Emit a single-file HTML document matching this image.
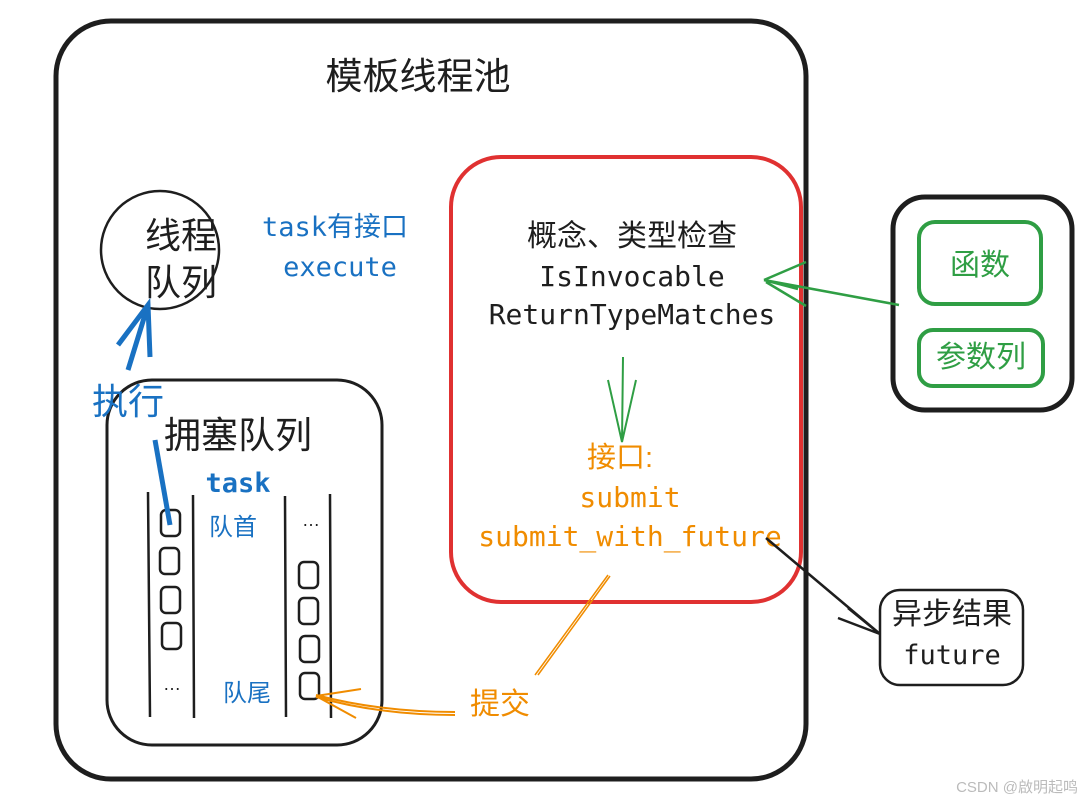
<!DOCTYPE html>
<html><head><meta charset="utf-8"><style>
html,body{margin:0;padding:0;background:#fff;}
svg{display:block;}
.cj{font-family:"Liberation Sans","Noto Sans CJK SC",sans-serif;}
.mo{font-family:"DejaVu Sans Mono","Liberation Mono","Noto Sans CJK SC",monospace;}
</style></head><body>
<svg width="1083" height="803" viewBox="0 0 1083 803" xmlns="http://www.w3.org/2000/svg">
<rect width="1083" height="803" fill="#fff"/>
<rect x="56" y="21" width="750" height="758" rx="55" fill="none" stroke="#1e1e1e" stroke-width="5"/>
<text x="418" y="89" class="cj" font-size="37" text-anchor="middle" fill="#1e1e1e">模板线程池</text>
<circle cx="160" cy="250" r="59" fill="none" stroke="#1e1e1e" stroke-width="2.5"/>
<text x="181" y="248" class="cj" font-size="36" text-anchor="middle" fill="#1e1e1e">线程</text>
<text x="181" y="295" class="cj" font-size="36" text-anchor="middle" fill="#1e1e1e">队列</text>
<text x="262" y="236" class="mo" font-size="27" fill="#1971c2">task有接口</text>
<text x="340" y="276" class="mo" font-size="27" text-anchor="middle" fill="#1971c2">execute</text>
<rect x="451" y="157" width="350" height="445" rx="50" fill="none" stroke="#e03131" stroke-width="4"/>
<text x="632" y="246" class="cj" font-size="30" text-anchor="middle" fill="#1e1e1e">概念、类型检查</text>
<text x="632" y="286" class="mo" font-size="28" text-anchor="middle" fill="#1e1e1e">IsInvocable</text>
<text x="632" y="324" class="mo" font-size="28" text-anchor="middle" fill="#1e1e1e">ReturnTypeMatches</text>
<path d="M623 357 L622 442 M608 380 L622 442 L636 380" fill="none" stroke="#2f9e44" stroke-width="2"/>
<text x="620" y="467" class="cj" font-size="29" text-anchor="middle" fill="#f08c00">接口:</text>
<text x="630" y="507" class="mo" font-size="28" text-anchor="middle" fill="#f08c00">submit</text>
<text x="630" y="546" class="mo" font-size="28" text-anchor="middle" fill="#f08c00">submit_with_future</text>
<rect x="893" y="197" width="179" height="213" rx="32" fill="none" stroke="#1e1e1e" stroke-width="5"/>
<rect x="919" y="222" width="122" height="82" rx="16" fill="none" stroke="#2f9e44" stroke-width="4"/>
<text x="980" y="275" class="cj" font-size="30" text-anchor="middle" fill="#2f9e44">函数</text>
<rect x="919" y="330" width="124" height="56" rx="14" fill="none" stroke="#2f9e44" stroke-width="4"/>
<text x="981" y="367" class="cj" font-size="30" text-anchor="middle" fill="#2f9e44">参数列</text>
<path d="M899 305 L764 280 M764 280 L806 262 M764 280 L798 289 M766 282 L806 306" fill="none" stroke="#2f9e44" stroke-width="2.5"/>
<path d="M766 538 L880 634 M880 634 L848 608 M880 634 L838 618" fill="none" stroke="#1e1e1e" stroke-width="2.5"/>
<rect x="880" y="590" width="143" height="95" rx="20" fill="none" stroke="#1e1e1e" stroke-width="2.5"/>
<text x="952" y="624" class="cj" font-size="30" text-anchor="middle" fill="#1e1e1e">异步结果</text>
<text x="952" y="664" class="mo" font-size="27" text-anchor="middle" fill="#1e1e1e">future</text>
<rect x="107" y="380" width="275" height="365" rx="45" fill="none" stroke="#1e1e1e" stroke-width="3"/>
<text x="238" y="448" class="cj" font-size="37" text-anchor="middle" fill="#1e1e1e">拥塞队列</text>
<text x="238" y="492" class="mo" font-size="27" font-weight="bold" text-anchor="middle" fill="#1971c2">task</text>
<g stroke="#1e1e1e" stroke-width="2.5" fill="none">
<path d="M148 492 L150 717 M193 495 L194 718 M285 496 L286 717 M330 494 L331 718"/>
<rect x="161" y="510" width="19" height="26" rx="5"/>
<rect x="160" y="548" width="19" height="26" rx="5"/>
<rect x="161" y="587" width="19" height="26" rx="5"/>
<rect x="162" y="623" width="19" height="26" rx="5"/>
<rect x="299" y="562" width="19" height="26" rx="5"/>
<rect x="299" y="598" width="19" height="26" rx="5"/>
<rect x="300" y="636" width="19" height="26" rx="5"/>
<rect x="300" y="673" width="19" height="26" rx="5"/>
</g>
<text x="172" y="690" class="cj" font-size="18" text-anchor="middle" fill="#1e1e1e">…</text>
<text x="311" y="526" class="cj" font-size="18" text-anchor="middle" fill="#1e1e1e">…</text>
<text x="233" y="535" class="cj" font-size="24" text-anchor="middle" fill="#1971c2">队首</text>
<text x="247" y="701" class="cj" font-size="24" text-anchor="middle" fill="#1971c2">队尾</text>
<path d="M455 712 Q380 712 316 695 M455 715 Q380 715 316 697 M316 696 L361 689 M316 696 L356 718" fill="none" stroke="#f08c00" stroke-width="2"/>
<path d="M535 675 L608 575 M538 675 L610 576" fill="none" stroke="#f08c00" stroke-width="1.5"/>
<text x="500" y="714" class="cj" font-size="30" text-anchor="middle" fill="#f08c00">提交</text>
<path d="M155 440 L170 525" stroke="#1971c2" stroke-width="5" fill="none"/>
<text x="128" y="414" class="cj" font-size="36" text-anchor="middle" fill="#1971c2">执行</text>
<path d="M128 370 L148 305 M118 345 L148 305 L150 357" stroke="#1971c2" stroke-width="5" fill="none"/>
<text x="1078" y="792" class="cj" font-size="15" text-anchor="end" fill="#bbb">CSDN @啟明起鸣</text>
</svg>
</body></html>
